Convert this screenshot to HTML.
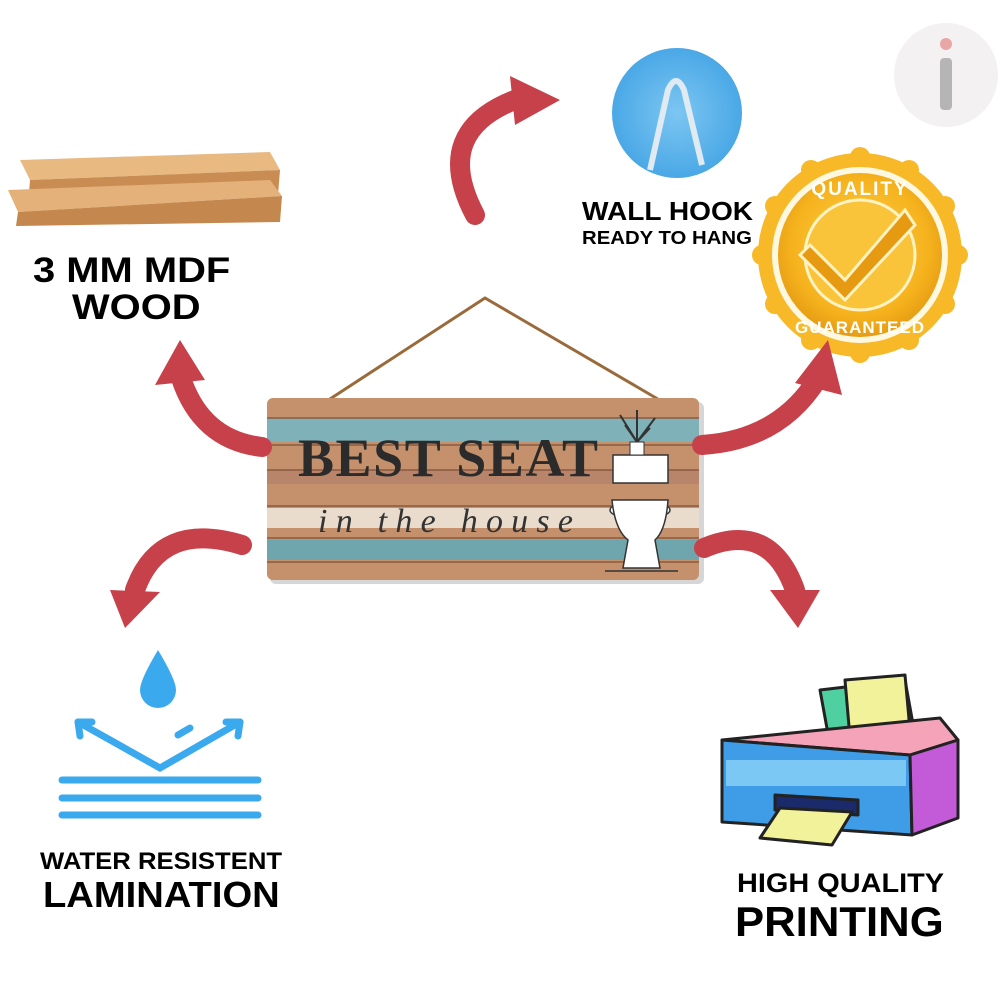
<!DOCTYPE html>
<html><head><meta charset="utf-8">
<style>
html,body{margin:0;padding:0;background:#fff;}
body{width:1000px;height:1000px;position:relative;overflow:hidden;font-family:"Liberation Sans",sans-serif;}
.t{position:absolute;font-weight:bold;color:#000;white-space:nowrap;transform-origin:0 0;}
</style></head><body>
<svg width="1000" height="1000" viewBox="0 0 1000 1000" style="position:absolute;left:0;top:0">
<defs>
<radialGradient id="gold" cx="0.5" cy="0.45" r="0.6">
<stop offset="0" stop-color="#ffd24a"/><stop offset="0.7" stop-color="#f5b21d"/><stop offset="1" stop-color="#e09410"/></radialGradient>
<radialGradient id="hook" cx="0.5" cy="0.5" r="0.5">
<stop offset="0" stop-color="#7cc6f2"/><stop offset="1" stop-color="#4aa8e6"/></radialGradient>
</defs>
<circle cx="946" cy="75" r="52" fill="#f3f1f1"/>
<rect x="940" y="58" width="12" height="52" rx="4" fill="#b5b5b5"/>
<circle cx="946" cy="44" r="6" fill="#e8a6a6"/>
<polygon points="20,160 270,152 280,170 30,180" fill="#e8b981"/>
<polygon points="30,180 280,170 278,195 28,206" fill="#c98c53"/>
<polygon points="8,190 270,180 282,196 18,212" fill="#e4b17a"/>
<polygon points="18,212 282,196 280,222 16,226" fill="#c4874e"/>
<circle cx="677" cy="113" r="65" fill="url(#hook)"/>
<path d="M650,170 L668,90 Q676,72 684,90 L702,165" fill="none" stroke="#dfeaf3" stroke-width="6"/>
<g transform="translate(860,255)">
<circle r="102" fill="#f7b928"/>
<g fill="#f7b928">
<circle r="10" cx="0" cy="-98"/><circle r="10" cx="49" cy="-85"/><circle r="10" cx="85" cy="-49"/><circle r="10" cx="98" cy="0"/><circle r="10" cx="85" cy="49"/><circle r="10" cx="49" cy="85"/><circle r="10" cx="0" cy="98"/><circle r="10" cx="-49" cy="85"/><circle r="10" cx="-85" cy="49"/><circle r="10" cx="-98" cy="0"/><circle r="10" cx="-85" cy="-49"/><circle r="10" cx="-49" cy="-85"/>
</g>
<circle r="88" fill="#fff8e0"/>
<circle r="82" fill="url(#gold)"/>
<circle r="55" fill="#f9c43a" stroke="#fff3c4" stroke-width="3"/>
<path d="M-50,-10 L-15,25 L45,-45 L55,-30 L-15,45 L-60,0 Z" fill="#e59a12" stroke="#fff2c0" stroke-width="3"/>
<text x="0" y="-60" text-anchor="middle" font-family="Liberation Sans" font-weight="bold" font-size="19" fill="#fff" letter-spacing="2">QUALITY</text>
<text x="0" y="78" text-anchor="middle" font-family="Liberation Sans" font-weight="bold" font-size="17" fill="#fff" letter-spacing="1">GUARANTEED</text>
</g>
<path d="M310,412 L485,298 L680,412" fill="none" stroke="#9a6a3a" stroke-width="3"/>
<g>
<rect x="270" y="402" width="434" height="182" rx="6" fill="#999" opacity="0.4"/>
<rect x="267" y="398" width="432" height="182" rx="6" fill="#c4916c"/>
<rect x="267" y="418" width="432" height="24" fill="#7fb2b8"/>
<rect x="267" y="470" width="432" height="14" fill="#b9856a"/>
<rect x="267" y="508" width="432" height="20" fill="#e9dccd"/>
<rect x="267" y="540" width="432" height="20" fill="#6fa6ad"/>
<g stroke="#8a5a40" stroke-width="1.5">
<line x1="267" y1="418" x2="699" y2="418"/><line x1="267" y1="445" x2="699" y2="445"/>
<line x1="267" y1="470" x2="699" y2="470"/><line x1="267" y1="506" x2="699" y2="506"/>
<line x1="267" y1="538" x2="699" y2="538"/><line x1="267" y1="562" x2="699" y2="562"/>
</g>
<text x="298" y="476" font-family="Liberation Serif" font-weight="bold" font-size="54" fill="#2b2b2b" textLength="300">BEST SEAT</text>
<text x="318" y="532" font-family="Liberation Serif" font-style="italic" font-size="34" fill="#333" textLength="255">in the house</text>
<rect x="613" y="455" width="55" height="28" fill="#fff" stroke="#333" stroke-width="1.5"/>
<ellipse cx="640" cy="510" rx="30" ry="9" fill="#fff" stroke="#333" stroke-width="1.5"/>
<path d="M612,500 Q615,530 628,540 L623,568 L660,568 L655,540 Q666,530 668,500 Z" fill="#fff" stroke="#333" stroke-width="1.5"/>
<line x1="605" y1="571" x2="678" y2="571" stroke="#333" stroke-width="1.5"/>
<rect x="630" y="442" width="14" height="13" fill="#fff" stroke="#333"/>
<path d="M637,442 L620,415 M637,442 L655,418 M637,442 L637,410 M637,442 L625,425 M637,442 L650,428" stroke="#333" stroke-width="2"/>
</g>
<g fill="none" stroke="#c7414a" stroke-width="20" stroke-linecap="round">
<path d="M475,215 Q430,130 520,98"/>
<path d="M262,447 Q200,440 180,375"/>
<path d="M702,445 Q780,440 818,378"/>
<path d="M242,545 Q160,520 135,590"/>
<path d="M704,548 Q770,520 795,590"/>
</g>
<g fill="#c7414a">
<polygon points="510,76 560,100 515,125"/>
<polygon points="155,385 180,340 205,380"/>
<polygon points="795,383 828,340 842,395"/>
<polygon points="110,590 160,592 125,628"/>
<polygon points="770,590 820,590 798,628"/>
</g>
<g fill="#3aa9ee" stroke="#3aa9ee">
<path d="M158,650 Q140,680 140,690 A18,18 0 0 0 176,690 Q176,680 158,650 Z" stroke="none"/>
<g fill="none" stroke-width="7" stroke-linecap="round">
<path d="M78,722 L160,768 L240,722"/>
<path d="M78,722 L92,722 M78,722 L80,736"/>
<path d="M240,722 L226,722 M240,722 L238,736"/>
<path d="M178,735 L190,728"/>
<line x1="62" y1="780" x2="258" y2="780"/>
<line x1="62" y1="798" x2="258" y2="798"/>
<line x1="62" y1="815" x2="258" y2="815"/>
</g>
</g>
<g stroke="#222" stroke-width="3" stroke-linejoin="round">
<polygon points="820,690 905,680 915,735 830,745" fill="#4fd0a0"/>
<polygon points="845,680 905,675 910,730 850,738" fill="#f2f29a"/>
<polygon points="722,740 940,718 958,740 910,755" fill="#f5a3b8"/>
<polygon points="722,740 910,755 912,835 722,822" fill="#3f9de8"/>
<rect x="726" y="760" width="180" height="26" fill="#7cc8f5" stroke="none"/>
<polygon points="910,755 958,740 958,818 912,835" fill="#c35ad8"/>
<polygon points="775,795 858,800 858,815 775,810" fill="#1a2a6a"/>
<polygon points="780,808 852,812 832,845 760,838" fill="#f2f29a"/>
</g>
</svg>
<div class="t" style="left:33px;top:252px;font-size:35px;line-height:37px;transform:scaleX(1.14)">3 MM MDF</div>
<div class="t" style="left:72px;top:289px;font-size:35px;line-height:37px;transform:scaleX(1.14)">WOOD</div>
<div class="t" style="left:582px;top:196px;font-size:26px;transform:scaleX(1.08)">WALL HOOK</div>
<div class="t" style="left:582px;top:228px;font-size:18px;transform:scaleX(1.13)">READY TO HANG</div>
<div class="t" style="left:40px;top:848px;font-size:24px;transform:scaleX(1.07)">WATER RESISTENT</div>
<div class="t" style="left:43px;top:874px;font-size:36px;transform:scaleX(1.06)">LAMINATION</div>
<div class="t" style="left:737px;top:868px;font-size:27px;transform:scaleX(1.07)">HIGH QUALITY</div>
<div class="t" style="left:735px;top:898px;font-size:42px;transform:scaleX(1.04)">PRINTING</div>
</body></html>
